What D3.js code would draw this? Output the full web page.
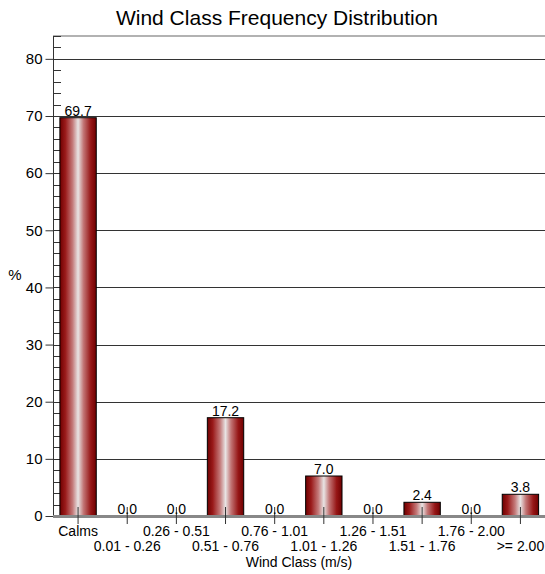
<!DOCTYPE html>
<html>
<head>
<meta charset="utf-8">
<script src="https://cdn.jsdelivr.net/npm/d3@7"></script>
<style>
  html, body { margin: 0; padding: 0; background: #fff; }
  svg { display: block; font-family: "Liberation Sans", Arial, sans-serif; }
</style>
</head>
<body>
<svg id="chart" width="545" height="574"></svg>
<script>
// Wind class frequency data (percent of hours)
const categories = ["Calms", "0.01 - 0.26", "0.26 - 0.51", "0.51 - 0.76", "0.76 - 1.01",
                    "1.01 - 1.26", "1.26 - 1.51", "1.51 - 1.76", "1.76 - 2.00", ">= 2.00"];
const percents = [69.7, 0.0, 0.0, 17.2, 0.0, 7.0, 0.0, 2.4, 0.0, 3.8];
const yTicks = [0, 10, 20, 30, 40, 50, 60, 70, 80];

const svg = d3.select("#chart");
const plotL = 53, plotR = 545, plotT = 36, plotB = 516;

const x = d3.scaleBand().domain(categories).range([plotL + 0.5, plotR]).paddingInner(0.26).paddingOuter(0.13);
const y = d3.scaleLinear().domain([0, 84]).range([plotB, plotT]);

// bar gradient: dark red edges with a pale highlight in the middle
const defs = svg.append("defs");
const grad = defs.append("linearGradient").attr("id", "barGrad")
  .attr("x1", "0%").attr("x2", "100%").attr("y1", "0%").attr("y2", "0%");
[[0, "#6e0000"], [0.15, "#9a1a1a"], [0.35, "#c47a7a"], [0.5, "#e8e4e4"], [0.65, "#c27575"], [0.85, "#961616"], [1, "#6e0000"]]
  .forEach(([o, c]) => grad.append("stop").attr("offset", o).attr("stop-color", c));

// title
svg.append("text").attr("x", 277).attr("y", 25).attr("text-anchor", "middle")
  .attr("font-size", 21).attr("fill", "#000").text("Wind Class Frequency Distribution");

// top frame line
svg.append("line").attr("x1", plotL).attr("x2", plotR).attr("y1", plotT).attr("y2", plotT)
  .attr("stroke", "#999").attr("stroke-width", 1.5);

// major gridlines
svg.append("g").selectAll("line").data(yTicks.filter(d => d > 0)).join("line")
  .attr("x1", plotL).attr("x2", plotR)
  .attr("y1", d => Math.round(y(d)) + 0.5).attr("y2", d => Math.round(y(d)) + 0.5)
  .attr("stroke", "#333").attr("stroke-width", 1);

// y axis with major ticks on the outside
const yAxis = d3.axisLeft(y).tickValues(yTicks).tickSize(8).tickPadding(3).tickFormat(d3.format("d"));
const gy = svg.append("g").attr("transform", `translate(${plotL + 0.5},0)`).call(yAxis);
gy.select(".domain").attr("stroke", "#333").attr("d", `M0,${plotT}V${plotB}`);
gy.selectAll(".tick line").attr("stroke", "#333");
gy.selectAll(".tick text").attr("font-size", 15).attr("fill", "#000")
  .attr("font-family", "Liberation Sans, Arial, sans-serif");

// minor ticks every 2 % on the inside
const minor = d3.range(0, 84.1, 2).filter(v => v % 10 !== 0);
svg.append("g").selectAll("line").data(minor).join("line")
  .attr("x1", plotL).attr("x2", plotL + 8)
  .attr("y1", d => Math.round(y(d)) + 0.5).attr("y2", d => Math.round(y(d)) + 0.5)
  .attr("stroke", "#333");

// y axis title
svg.append("text").attr("x", 15).attr("y", 280).attr("text-anchor", "middle")
  .attr("font-size", 15).text("%");

// bars
svg.append("g").selectAll("rect").data(categories).join("rect")
  .attr("x", d => x(d)).attr("width", x.bandwidth())
  .attr("y", (d, i) => y(percents[i])).attr("height", (d, i) => y(0) - y(percents[i]))
  .attr("fill", "url(#barGrad)").attr("stroke", "#000").attr("stroke-width", 1);

// x axis baseline
svg.append("line").attr("x1", plotL).attr("x2", plotR).attr("y1", plotB + 0.5).attr("y2", plotB + 0.5)
  .attr("stroke", "#888").attr("stroke-width", 3);

// category ticks crossing the baseline
svg.append("g").selectAll("line").data(categories).join("line")
  .attr("x1", d => x(d) + x.bandwidth() / 2).attr("x2", d => x(d) + x.bandwidth() / 2)
  .attr("y1", plotB - 9).attr("y2", plotB + 8)
  .attr("stroke", "#333").attr("stroke-width", 1);

// value labels
svg.append("g").selectAll("text").data(categories).join("text")
  .attr("x", d => x(d) + x.bandwidth() / 2)
  .attr("y", (d, i) => y(percents[i]) - 2)
  .attr("text-anchor", "middle").attr("font-size", 14)
  .text((d, i) => percents[i].toFixed(1));

// category labels in two staggered rows
svg.append("g").selectAll("text").data(categories).join("text")
  .attr("x", d => x(d) + x.bandwidth() / 2)
  .attr("y", (d, i) => i % 2 === 0 ? 536 : 551)
  .attr("text-anchor", "middle").attr("font-size", 14)
  .text(d => d);

// x axis title
svg.append("text").attr("x", 299).attr("y", 567).attr("text-anchor", "middle")
  .attr("font-size", 14).text("Wind Class (m/s)");
</script>
</body>
</html>
